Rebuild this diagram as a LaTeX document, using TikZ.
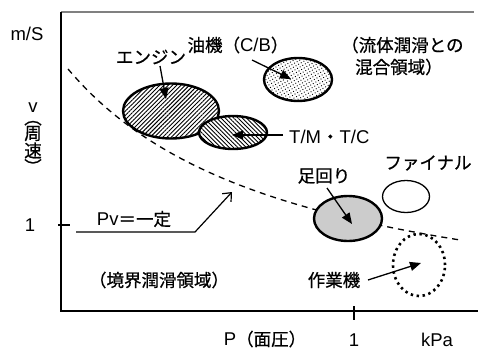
\documentclass[tikz,border=0pt]{standalone}
\usepackage{fontspec}
\setmainfont{Liberation Sans}
\newfontfamily\jp{Noto Sans CJK JP}[RawFeature={embolden=0.7}]
\newcommand\latf{\fontspec{Liberation Sans}}
\usetikzlibrary{arrows.meta,shapes.geometric,patterns.meta}
\tikzset{
  lat/.style={font=\fontsize{18.5}{21}\selectfont, inner sep=0pt},
  jlbl/.style={font=\jp\fontsize{17.5}{22}\selectfont, inner sep=0pt, align=left},
  ell/.style={ellipse, draw, inner sep=0pt},
  thickell/.style={ell, line width=2.4pt},
  arr/.style={line width=1.3pt, -{Triangle[length=11pt,width=9pt]}},
  axisline/.style={line width=1.2pt},
}
\begin{document}
\begin{tikzpicture}[x=1pt,y=-1pt]
\useasboundingbox (0,0) rectangle (478,351);
% frame
\coordinate (tl) at (61,12);
\coordinate (tr) at (474,12);
\coordinate (bl) at (61,311);
\coordinate (br) at (478,311);
\draw[axisline, gray] (tl) -- (tr);
\draw[axisline] (tl) -- (bl) -- (br);
% ticks
\coordinate (xta) at (354,306);
\coordinate (xtb) at (354,320);
\coordinate (yta) at (58,225);
\coordinate (ytb) at (70,225);
\draw[axisline] (xta) -- (xtb);
\draw[axisline] (yta) -- (ytb);
% dashed curve Pv = const
\draw[line width=1.3pt, dash pattern=on 6pt off 5pt]
  plot[domain=68:460, samples=80] (\x, {339.8 - 619.62/((\x+160.8)/100)});
% axis labels
\node[lat] (ms) at (27,34) {m/S};
\node[lat] (vv) at (33,108) {v};
\node[jlbl, rotate=-90] (parl) at (33,117.5) {（};
\node[jlbl] (shu) at (33,133.5) {周};
\node[jlbl] (soku) at (33,150.5) {速};
\node[jlbl, rotate=-90] (parr) at (33,167) {）};
\node[lat] (y1) at (30,225) {1};
\node[lat] (x1) at (354,340) {1};
\node[lat] (kpa) at (437,340) {kPa};
\node[jlbl] (pmen) at (265,339) {{\latf\fontsize{18.5}{21}\selectfont P}（面圧）};
% region labels
\node[jlbl] (kyokai) at (159,280) {（境界潤滑領域）};
\node[jlbl, anchor=west] (ryutai) at (341,56) {（流体潤滑との\\\hspace*{14pt}混合領域）};
% Pv arrow
\node[jlbl] (pvlbl) at (134,219) {{\latf\fontsize{18.5}{21}\selectfont Pv}＝一定};
\coordinate (pvstart) at (76,232);
\coordinate (pvbend) at (195,232);
\coordinate (pvtip) at (232,192);
\draw[line width=1.2pt, -{Straight Barb[length=7pt,width=12pt]}] (pvstart) -- (pvbend) -- (pvtip);
% ellipses
\node[thickell, minimum width=96pt, minimum height=55pt, preaction={fill=white},
  pattern={Lines[angle=45,distance=3pt,line width=0.9pt]}] (engine) at (171,111) {};
\node[thickell, minimum width=68pt, minimum height=33pt, preaction={fill=white},
  pattern={Lines[angle=-45,distance=3pt,line width=0.9pt]}] (tmtc) at (233,132.5) {};
\node[thickell, minimum width=68pt, minimum height=43pt, preaction={fill=white},
  pattern={Dots[distance=3pt,radius=0.65pt,angle=30]}] (cb) at (298,79.5) {};
\node[thickell, minimum width=68pt, minimum height=45pt, fill=gray!40] (ashi) at (348,218.5) {};
\node[ell, line width=1.3pt, minimum width=47pt, minimum height=32pt] (final) at (406,196.5) {};
\node[ell, line width=2.6pt, dash pattern=on 2.4pt off 3.6pt, minimum width=52pt, minimum height=62pt] (sagyo) at (419,265) {};
% labels with arrows
\node[jlbl] (englbl) at (151,57) {エンジン};
\coordinate (engs) at (160,66);
\coordinate (engt) at (166,99);
\draw[arr] (engs) -- (engt);
\node[jlbl] (cblbl) at (238,45) {油機（{\latf\fontsize{18.5}{21}\selectfont C/B}）};
\coordinate (cbs) at (252,60);
\coordinate (cbt) at (291,79);
\draw[arr] (cbs) -- (cbt);
\node[lat, anchor=west] (tmlbl) at (289,137) {T/M{\jp・}T/C};
\coordinate (tms) at (283,135);
\coordinate (tmt) at (232,135);
\draw[arr] (tms) -- (tmt);
\node[jlbl] (finlbl) at (428,163) {ファイナル};
\node[jlbl] (ashilbl) at (324,176) {足回り};
\coordinate (ashis) at (327,188);
\coordinate (ashit) at (352,224);
\draw[arr] (ashis) -- (ashit);
\node[jlbl] (sagyolbl) at (334,280) {作業機};
\coordinate (sags) at (368,280);
\coordinate (sagt) at (421,263);
\draw[arr] (sags) -- (sagt);
\end{tikzpicture}
\end{document}
